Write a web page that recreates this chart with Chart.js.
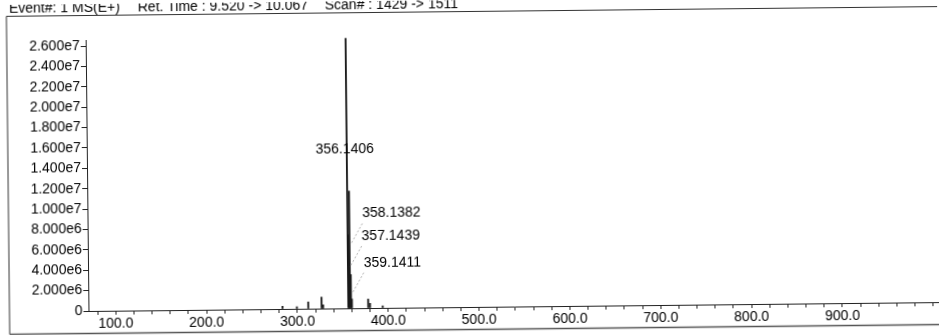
<!DOCTYPE html>
<html>
<head>
<meta charset="utf-8">
<title>MS spectrum</title>
<script src="https://cdn.jsdelivr.net/npm/chart.js@4.4.1/dist/chart.umd.min.js"></script>
<style>
  html, body { margin: 0; padding: 0; background: #fff; overflow: hidden; }
  /* the scanned printout sits slightly crooked */
  #wrap { width: 939px; height: 335px; transform: rotate(-0.6deg); transform-origin: 50% 50%; }
</style>
</head>
<body>
<div id="wrap"><canvas id="ms" width="939" height="335"></canvas></div>
<script>
// header line of the printout
const headerParts = ['Event#: 1 MS(E+)', 'Ret. Time : 9.520 -> 10.067', 'Scan# : 1429 -> 1511'];

// centroid peaks
const peakMz        = [283.7, 299.5, 312.0, 326.7, 328.4, 356.1406, 357.1439, 358.1382, 359.1411, 360.14, 378.0, 380.0, 394.0];
const peakIntensity = [2.6e5, 2.0e5, 6.6e5, 1.12e6, 3.6e5, 2.65e7,  7.2e6,    1.15e7,   3.3e6,    9.0e5,  8.8e5, 4.6e5, 2.0e5];

// peaks that carry an m/z label, in print order
const labeledMz = [356.1406, 358.1382, 357.1439, 359.1411];

// axis ticks
const yTickValues = [0, 2e6, 4e6, 6e6, 8e6, 1e7, 1.2e7, 1.4e7, 1.6e7, 1.8e7, 2e7, 2.2e7, 2.4e7, 2.6e7];
const xMajorTicks = [100, 200, 300, 400, 500, 600, 700, 800, 900];
const xMinorStep = 20;

const FONT = '"Liberation Sans", Arial, sans-serif';

let xTickValues = [];
for (let v = 80; v <= 1000; v += xMinorStep) xTickValues.push(v);

// frame around the plot + header text
const framePlugin = {
    id: 'frame',
    beforeDraw(chart) {
        const ctx = chart.ctx;
        ctx.save();
        ctx.fillStyle = '#fff';
        ctx.fillRect(0, 0, chart.width, chart.height);
        ctx.strokeStyle = '#333';
        ctx.lineWidth = 1;
        ctx.beginPath();
        ctx.moveTo(chart.width + 5, 11.5);
        ctx.lineTo(8, 11.5);
        ctx.lineTo(8, 329.5);
        ctx.stroke();
        ctx.strokeStyle = '#555';
        ctx.lineWidth = 1.6;
        ctx.beginPath();
        ctx.moveTo(8, 329.5);
        ctx.lineTo(chart.width + 5, 329.5);
        ctx.stroke();

        ctx.fillStyle = '#000';
        ctx.font = '14px ' + FONT;
        ctx.textBaseline = 'alphabetic';
        ctx.textAlign = 'left';
        const xs = [10.7, 139.5, 326.5];
        headerParts.forEach((t, i) => ctx.fillText(t, xs[i], 8));
        ctx.restore();
    }
};

// m/z labels with dotted leaders
const peakLabels = {
    id: 'peakLabels',
    afterDatasetsDraw(chart) {
        const { ctx, scales: { x, y } } = chart;
        const rows = [1.56e7, 9.28e6, 7.07e6, 4.45e6]; // where each label sits (intensity units)
        ctx.save();
        ctx.font = '14px ' + FONT;
        ctx.fillStyle = '#000';
        ctx.textBaseline = 'middle';
        labeledMz.forEach((mz, i) => {
            const px = x.getPixelForValue(mz);
            const py = y.getPixelForValue(rows[i]);
            const txt = mz.toFixed(4);
            if (i === 0) {
                ctx.textAlign = 'center';
                ctx.fillText(txt, px - 2, py);
                return;
            }
            const left = px + 13;
            ctx.textAlign = 'left';
            ctx.fillText(txt, left, py);
            ctx.strokeStyle = '#9a9a9a';
            ctx.lineWidth = 0.8;
            ctx.setLineDash([2, 2]);
            ctx.beginPath();
            ctx.moveTo(left, py + 10);
            ctx.lineTo(left - 12, py + 31);
            ctx.stroke();
            ctx.setLineDash([]);
        });
        ctx.restore();
    }
};

new Chart(document.getElementById('ms'), {
    type: 'bar',
    data: {
        datasets: [{
            data: peakMz.map((m, i) => ({ x: m, y: peakIntensity[i] })),
            backgroundColor: '#1a1a1a',
            borderWidth: 0,
            barThickness: 1.2
        }]
    },
    options: {
        responsive: false,
        animation: false,
        devicePixelRatio: 1,
        layout: { padding: { top: 36, left: 0, right: 0, bottom: 0 } },
        plugins: {
            legend: { display: false },
            tooltip: { enabled: false }
        },
        scales: {
            x: {
                type: 'linear',
                min: 70,
                max: 1008,
                offset: false,
                afterBuildTicks: s => { s.ticks = xTickValues.map(v => ({ value: v })); },
                afterFit: s => { s.height = 28; },
                grid: { drawOnChartArea: false, tickLength: 4, color: '#222', offset: false },
                border: { color: '#222', width: 1 },
                ticks: {
                    autoSkip: false,
                    maxRotation: 0,
                    padding: 1,
                    color: '#000',
                    font: { family: FONT, size: 14 },
                    callback: v => xMajorTicks.includes(v) ? v.toFixed(1) : ''
                }
            },
            y: {
                min: 0,
                max: 2.66e7,
                afterBuildTicks: s => { s.ticks = yTickValues.map(v => ({ value: v })); },
                afterFit: s => { s.width = 87; },
                grid: { drawOnChartArea: false, tickLength: 5, color: '#222' },
                border: { color: '#222', width: 1 },
                ticks: {
                    autoSkip: false,
                    padding: 1,
                    color: '#000',
                    font: { family: FONT, size: 14 },
                    callback: v => v === 0 ? '0' : v.toExponential(3).replace('+', '')
                }
            }
        }
    },
    plugins: [framePlugin, peakLabels]
});
</script>
</body>
</html>
